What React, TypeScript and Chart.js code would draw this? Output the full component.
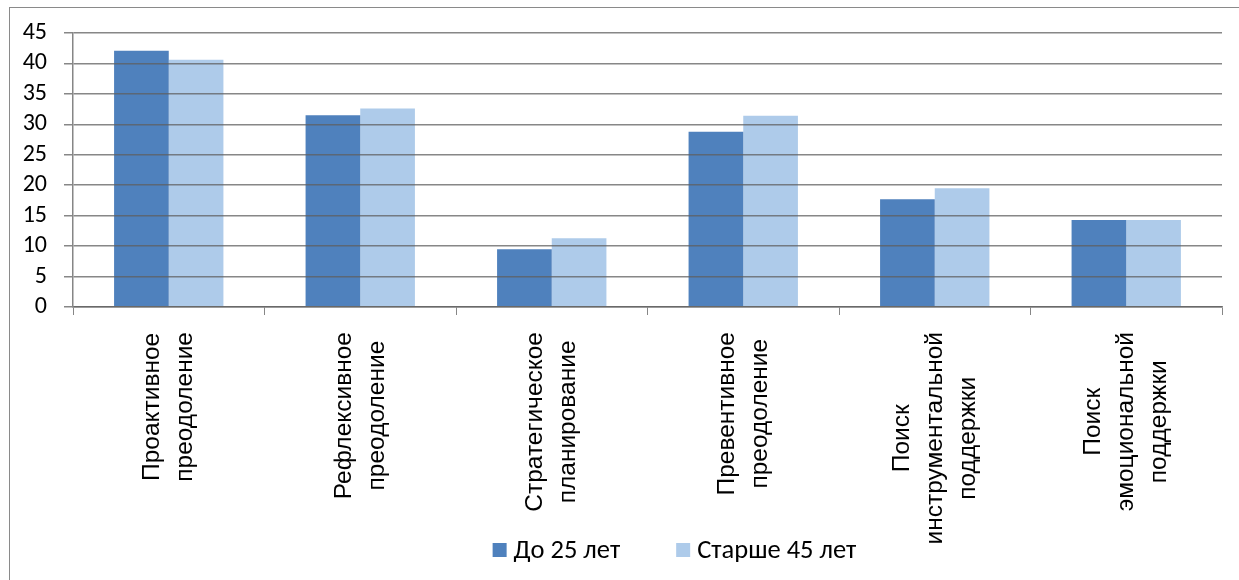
import React, { useEffect, useRef } from 'react';
import { Chart, registerables } from 'chart.js';

Chart.register(...registerables);

// ---------- data ----------
const categories: string[][] = [
  ['Проактивное', 'преодоление'],
  ['Рефлексивное', 'преодоление'],
  ['Стратегическое', 'планирование'],
  ['Превентивное', 'преодоление'],
  ['Поиск', 'инструментальной', 'поддержки'],
  ['Поиск', 'эмоциональной', 'поддержки'],
];
const seriesNames = ['До 25 лет', 'Старше 45 лет'];
const under25 = [42.1, 31.5, 9.5, 28.8, 17.7, 14.3];
const over45 = [40.6, 32.6, 11.3, 31.4, 19.5, 14.3];
const yMin = 0;
const yMax = 45;
const yStep = 5;

// ---------- style ----------
const DARK = '#4F81BD';
const LIGHT = '#AECBEA';
const GRID = 'rgba(95,95,95,0.75)';
const AXIS = '#868686';
const CAL = 'Carlito, Lato, "Noto Sans", sans-serif';
const ARIAL = '"Liberation Sans", Arial, sans-serif';
const CANVAS_W = 1331;
const CANVAS_H = 600;

const xLabelPlugin = {
  id: 'excelXLabels',
  afterDraw(chart: any) {
    const ctx = chart.ctx;
    const xs = chart.scales.x;
    const labels = chart.data.labels as string[][];
    ctx.save();
    ctx.font = `24.5px ${ARIAL}`;
    ctx.fillStyle = '#000';
    ctx.textAlign = 'center';
    ctx.textBaseline = 'middle';
    const lineGap = 33;
    labels.forEach((lines, i) => {
      const cx = xs.getPixelForValue(i);
      const maxW = Math.max(...lines.map((l) => ctx.measureText(l).width));
      const cy = xs.top + 25 + maxW / 2;
      const n = lines.length;
      lines.forEach((line, j) => {
        const lx = cx + (j - (n - 1) / 2) * lineGap;
        ctx.save();
        ctx.translate(lx, cy);
        ctx.rotate(-Math.PI / 2);
        ctx.fillText(line, 0, 0);
        ctx.restore();
      });
    });
    ctx.restore();
  },
};

const legendPlugin = {
  id: 'excelLegend',
  afterDraw(chart: any) {
    const ctx = chart.ctx;
    ctx.save();
    ctx.font = `26.5px ${CAL}`;
    ctx.textBaseline = 'middle';
    ctx.textAlign = 'left';
    const box = 14;
    const gapText = 7;
    const gapItem = 56;
    const items = chart.data.datasets.map((ds: any) => ({
      text: ds.label as string,
      color: ds.backgroundColor as string,
      w: ctx.measureText(ds.label).width,
    }));
    const total =
      items.reduce((s: number, it: any) => s + box + gapText + it.w, 0) + gapItem * (items.length - 1);
    let x = 664.5 - total / 2;
    const y = 542;
    items.forEach((it: any) => {
      ctx.fillStyle = it.color;
      ctx.fillRect(x, y - box / 2, box, box);
      ctx.fillStyle = '#000';
      ctx.fillText(it.text, x + box + gapText, y + 1);
      x += box + gapText + it.w + gapItem;
    });
    ctx.restore();
  },
};

export default function App() {
  const ref = useRef<HTMLCanvasElement>(null);

  useEffect(() => {
    if (!ref.current) return;
    const chart = new Chart(ref.current, {
      type: 'bar',
      data: {
        labels: categories,
        datasets: [
          {
            label: seriesNames[0],
            data: under25,
            backgroundColor: DARK,
            categoryPercentage: 0.571,
            barPercentage: 1,
          },
          {
            label: seriesNames[1],
            data: over45,
            backgroundColor: LIGHT,
            categoryPercentage: 0.571,
            barPercentage: 1,
          },
        ],
      },
      options: {
        animation: false,
        responsive: false,
        maintainAspectRatio: false,
        devicePixelRatio: 1,
        layout: { padding: { top: 25, right: 119, bottom: 0, left: 0 } },
        plugins: {
          legend: { display: false },
          tooltip: { enabled: false },
          title: { display: false },
        },
        scales: {
          x: {
            grid: {
              offset: true,
              drawOnChartArea: false,
              drawTicks: true,
              tickLength: 8,
              color: AXIS,
              lineWidth: 1,
            },
            border: { display: true, color: AXIS, width: 1.5, z: 1 },
            ticks: { display: false },
            afterFit: (s: any) => {
              s.height = CANVAS_H - 299;
            },
          },
          y: {
            min: yMin,
            max: yMax,
            ticks: {
              stepSize: yStep,
              autoSkip: false,
              padding: 17,
              color: '#000',
              font: { family: CAL, size: 24, lineHeight: 0.2 },
            },
            grid: { color: GRID, lineWidth: 1.5, tickLength: 9, z: 1 },
            border: { display: true, color: AXIS, width: 1.5, z: 1 },
            afterFit: (s: any) => {
              s.width = 63;
            },
          },
        },
      },
      plugins: [xLabelPlugin, legendPlugin],
    });
    return () => chart.destroy();
  }, []);

  return (
    <div
      style={{
        position: 'fixed',
        left: 0,
        top: 0,
        width: 1239,
        height: 580,
        overflow: 'hidden',
        background: '#fff',
      }}
    >
      <div
        style={{
          position: 'absolute',
          left: 9,
          top: 7,
          width: CANVAS_W,
          height: CANVAS_H,
          border: '1px solid #8a8a8a',
        }}
      >
        <canvas
          ref={ref}
          width={CANVAS_W}
          height={CANVAS_H}
          style={{ display: 'block', width: CANVAS_W, height: CANVAS_H }}
        />
      </div>
    </div>
  );
}
